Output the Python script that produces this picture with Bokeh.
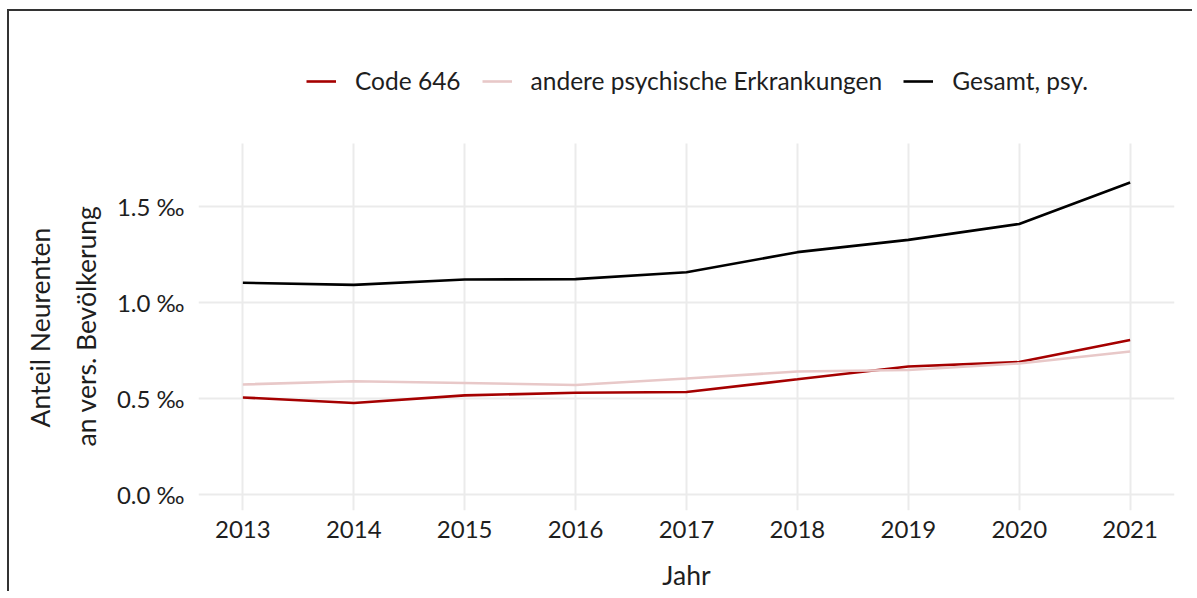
from bokeh.plotting import figure
from bokeh.layouts import column
from bokeh.models import FixedTicker, Legend, LegendItem, Range1d, Grid, Title
from bokeh.embed import file_html
from bokeh.resources import INLINE

years = [2013, 2014, 2015, 2016, 2017, 2018, 2019, 2020, 2021]
code646 = [0.505, 0.476, 0.516, 0.530, 0.534, 0.600, 0.667, 0.690, 0.805]
andere = [0.573, 0.590, 0.581, 0.570, 0.604, 0.641, 0.649, 0.683, 0.745]
gesamt = [1.104, 1.093, 1.121, 1.123, 1.159, 1.264, 1.328, 1.411, 1.628]

series_names = ["Code 646", "andere psychische Erkrankungen", "Gesamt, psy."]
series_colors = ["#a50000", "#e8c8c8", "#000000"]

y_ticks = [0.0, 0.5, 1.0, 1.5]
y_tick_labels = ["0.0 \u2030", "0.5 \u2030", "1.0 \u2030", "1.5 \u2030"]
y_title_lines = ["Anteil Neurenten", "an vers. Bev\u00f6lkerung"]

FONT = "Lato"
TXT = "#1e1e1e"
PANEL_Y = (-0.085, 1.829)   # extent of the data panel

p = figure(
    output_backend="svg", toolbar_location=None,
    frame_width=974, frame_height=449,
    min_border_left=189, min_border_right=20,
    min_border_top=48, min_border_bottom=80,
    x_range=Range1d(2012.6, 2021.4), y_range=Range1d(-0.085, 2.27),
)
p.styles = {"border-top": "2px solid #333333", "border-left": "2px solid #333333"}
p.outline_line_color = None
p.background_fill_color = "white"
p.border_fill_color = "white"

renderers = []
for vals, col in zip([code646, andere, gesamt], series_colors):
    r = p.line(years, vals, line_color=col, line_width=2.6)
    renderers.append(r)

# grids
p.xgrid.ticker = FixedTicker(ticks=years)
p.ygrid.ticker = FixedTicker(ticks=y_ticks)
for g in (p.xgrid, p.ygrid):
    g.grid_line_color = "#ebebeb"
    g.grid_line_width = 2
if "cross_bounds" in Grid.properties():
    p.xgrid.cross_bounds = PANEL_Y
else:
    p.xgrid.visible = False
    p.segment(x0=years, y0=[PANEL_Y[0]] * len(years), x1=years, y1=[PANEL_Y[1]] * len(years),
              line_color="#ebebeb", line_width=2, level="underlay")

# axes
p.xaxis.ticker = FixedTicker(ticks=years)
p.yaxis.ticker = FixedTicker(ticks=y_ticks)
p.yaxis.bounds = PANEL_Y
p.yaxis.major_label_overrides = {t: l for t, l in zip(y_ticks, y_tick_labels)}
for ax in (p.xaxis[0], p.yaxis[0]):
    ax.axis_line_color = None
    ax.major_tick_line_color = None
    ax.minor_tick_line_color = None
    ax.major_tick_out = 0
    ax.major_tick_in = 0
    ax.minor_tick_out = 0
    ax.major_label_text_font = FONT
    ax.major_label_text_font_size = "24px"
    ax.major_label_text_color = TXT
    ax.axis_label_text_font = FONT
    ax.axis_label_text_font_size = "26.5px"
    ax.axis_label_text_font_style = "normal"
    ax.axis_label_text_color = TXT
p.xaxis.major_label_standoff = 10
p.yaxis.major_label_standoff = 14
p.xaxis.axis_label = "Jahr"
p.xaxis.axis_label_standoff = 18

# two-line y-axis title, centred on the data panel (not on the extended frame)
for txt, off, so in [(y_title_lines[1], 64, 24), (y_title_lines[0], 83, 0)]:
    p.add_layout(Title(text=txt, align="left", offset=off, standoff=so,
                       text_font=FONT, text_font_size="26.5px", text_font_style="normal",
                       text_color=TXT), "left")

legend = Legend(
    items=[LegendItem(label=n, renderers=[r]) for n, r in zip(series_names, renderers)],
    orientation="horizontal",
    location=(108, 415),
    label_text_font=FONT, label_text_font_size="24.5px", label_text_color=TXT,
    glyph_width=30, glyph_height=24, label_standoff=19, spacing=21,
    padding=0, margin=0, border_line_color=None, background_fill_alpha=0,
    label_height=24,
)
p.add_layout(legend, "center")

root = column(p, styles={"padding-left": "7px", "padding-top": "9px", "background": "white"})
open("out.html", "w").write(file_html(root, INLINE))
